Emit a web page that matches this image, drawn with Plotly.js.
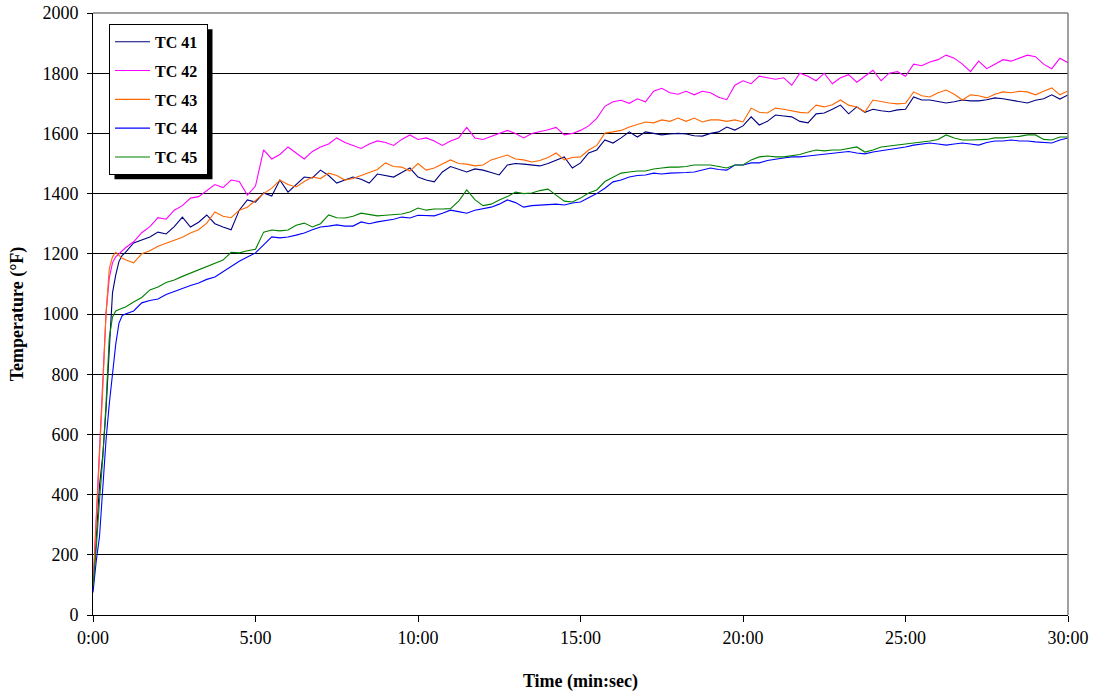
<!DOCTYPE html>
<html>
<head>
<meta charset="utf-8">
<script src="https://cdn.plot.ly/plotly-3.0.1.min.js"></script>
<style>
  html, body { margin: 0; padding: 0; background: #fff; }
  #chart { width: 1097px; height: 694px; }
</style>
</head>
<body>
<div id="chart"></div>
<script>
// Time in minutes
const timeMin = [
  0, 0.1, 0.2, 0.3, 0.4, 0.5, 0.6, 0.7, 0.8, 0.9, 1.0,
  1.25, 1.5, 1.75, 2.0, 2.25, 2.5, 2.75, 3.0, 3.25, 3.5, 3.75, 4.0,
  4.25, 4.5, 4.75, 5.0, 5.25, 5.5, 5.75, 6.0, 6.25, 6.5, 6.75, 7.0,
  7.25, 7.5, 7.75, 8.0, 8.25, 8.5, 8.75, 9.0, 9.25, 9.5, 9.75, 10.0,
  10.25, 10.5, 10.75, 11.0, 11.25, 11.5, 11.75, 12.0, 12.25, 12.5, 12.75, 13.0,
  13.25, 13.5, 13.75, 14.0, 14.25, 14.5, 14.75, 15.0, 15.25, 15.5, 15.75, 16.0,
  16.25, 16.5, 16.75, 17.0, 17.25, 17.5, 17.75, 18.0, 18.25, 18.5, 18.75, 19.0,
  19.25, 19.5, 19.75, 20.0, 20.25, 20.5, 20.75, 21.0, 21.25, 21.5, 21.75, 22.0,
  22.25, 22.5, 22.75, 23.0, 23.25, 23.5, 23.75, 24.0, 24.25, 24.5, 24.75, 25.0,
  25.25, 25.5, 25.75, 26.0, 26.25, 26.5, 26.75, 27.0, 27.25, 27.5, 27.75, 28.0,
  28.25, 28.5, 28.75, 29.0, 29.25, 29.5, 29.75, 30.0
];

const tc41 = [
  85, 270, 430, 530, 680, 880, 1070, 1130, 1175, 1195, 1205,
  1236, 1245, 1256, 1272,
  1266, 1290, 1322, 1289,
  1305, 1329, 1300, 1289,
  1280, 1345, 1379, 1372,
  1402, 1392, 1445, 1405,
  1430, 1455, 1452, 1478,
  1460, 1435, 1445, 1455,
  1448, 1435, 1465, 1460,
  1455, 1470, 1485, 1455,
  1445, 1439, 1472, 1490,
  1480, 1472, 1482, 1478,
  1470, 1462, 1495, 1500,
  1498, 1495, 1492, 1500,
  1512, 1522, 1485, 1502,
  1535, 1545, 1578, 1568,
  1585, 1605, 1588, 1605,
  1600, 1595, 1598, 1600,
  1598, 1592, 1591, 1600,
  1605, 1621, 1611, 1625,
  1655, 1628, 1640, 1661,
  1658, 1655, 1640, 1635,
  1665, 1668, 1680, 1694,
  1665, 1688, 1670, 1680,
  1675, 1672, 1678, 1680,
  1721, 1711, 1711, 1705,
  1701, 1705, 1711, 1708,
  1708, 1712, 1718, 1715,
  1711, 1705, 1701, 1710,
  1715, 1728, 1714, 1728
];

const tc42 = [
  100, 320, 580, 800, 1000, 1120, 1170, 1190, 1200, 1210, 1220,
  1240, 1270, 1290, 1320,
  1315, 1345, 1360, 1385,
  1390, 1410, 1430, 1420,
  1445, 1440, 1395, 1425,
  1545, 1515, 1530, 1555,
  1535, 1515, 1540, 1555,
  1565, 1585, 1570, 1560,
  1550, 1565, 1575, 1570,
  1560, 1580, 1595, 1580,
  1585, 1575, 1560, 1575,
  1585, 1620, 1585, 1580,
  1590, 1600, 1610, 1600,
  1585, 1600, 1605, 1612,
  1620, 1595, 1600, 1610,
  1625, 1650, 1690, 1705,
  1710, 1700, 1715, 1705,
  1740, 1750, 1735, 1730,
  1740, 1728, 1740, 1735,
  1720, 1712, 1760, 1775,
  1765, 1790, 1785, 1780,
  1785, 1760, 1800, 1790,
  1775, 1800, 1765, 1785,
  1795, 1770, 1790, 1810,
  1775, 1800, 1805, 1790,
  1830, 1825, 1837, 1845,
  1860, 1850, 1830, 1805,
  1840, 1815, 1830, 1845,
  1840, 1850, 1860, 1855,
  1830, 1815, 1850, 1835
];

const tc43 = [
  90, 300, 550, 750, 1000, 1150, 1190, 1205, 1195, 1185, 1180,
  1170, 1200, 1210, 1225,
  1236, 1245, 1255, 1269,
  1280, 1302, 1339, 1325,
  1320, 1345, 1355, 1379,
  1400, 1418, 1445, 1430,
  1422, 1440, 1455, 1450,
  1468, 1460, 1445, 1450,
  1460, 1472, 1480, 1502,
  1490, 1488, 1475, 1500,
  1478, 1485, 1498, 1512,
  1500, 1498, 1492, 1495,
  1512, 1520, 1528, 1515,
  1512, 1505, 1510, 1520,
  1535, 1512, 1520, 1522,
  1545, 1560, 1601, 1605,
  1610, 1621, 1630, 1638,
  1635, 1645, 1640, 1651,
  1640, 1651, 1638, 1645,
  1645, 1640, 1645, 1638,
  1684, 1670, 1668, 1684,
  1680, 1675, 1670, 1668,
  1694, 1688, 1695, 1711,
  1694, 1688, 1671, 1711,
  1705, 1701, 1698, 1700,
  1738, 1725, 1721, 1735,
  1744, 1730, 1711, 1728,
  1725, 1718, 1730, 1738,
  1735, 1740, 1738, 1728,
  1740, 1751, 1728, 1741
];

const tc44 = [
  75, 180, 260, 420, 580, 700, 800, 900, 970, 995, 1000,
  1010, 1037, 1045, 1050,
  1065, 1075, 1086, 1095,
  1103, 1115, 1123, 1140,
  1156, 1175, 1189, 1203,
  1230, 1256, 1253, 1256,
  1262, 1269, 1280, 1289,
  1292, 1296, 1292, 1292,
  1306, 1300, 1306, 1310,
  1315, 1322, 1319, 1328,
  1326, 1326, 1335, 1345,
  1340, 1335, 1345, 1350,
  1355, 1365, 1379, 1370,
  1355, 1360, 1362, 1365,
  1365, 1362, 1369, 1372,
  1385, 1400, 1418, 1439,
  1445, 1455, 1460, 1462,
  1468, 1465, 1468, 1468,
  1470, 1472, 1478, 1485,
  1480, 1478, 1495, 1495,
  1502, 1502, 1510, 1515,
  1518, 1522, 1522, 1525,
  1528, 1532, 1535, 1538,
  1540, 1535, 1532, 1538,
  1542, 1545, 1551, 1555,
  1561, 1565, 1568, 1565,
  1561, 1565, 1568, 1565,
  1561, 1570, 1575, 1575,
  1578, 1575, 1575, 1572,
  1570, 1568, 1578, 1585
];

const tc45 = [
  95, 220, 380, 520, 700, 920, 990, 1010, 1015, 1020, 1023,
  1040, 1055, 1080, 1090,
  1105, 1113, 1125, 1136,
  1145, 1156, 1168, 1179,
  1205, 1203, 1210, 1215,
  1272, 1279, 1276, 1279,
  1295, 1302, 1289, 1300,
  1329, 1320, 1319, 1325,
  1335, 1330, 1326, 1328,
  1329, 1332, 1339, 1352,
  1345, 1349, 1349, 1350,
  1375, 1412, 1380, 1360,
  1365, 1379, 1390, 1405,
  1400, 1402, 1410, 1415,
  1395, 1375, 1372, 1385,
  1402, 1412, 1440, 1455,
  1468, 1472, 1475, 1475,
  1482, 1485, 1488, 1488,
  1490, 1495, 1495, 1495,
  1490, 1485, 1495, 1495,
  1512, 1522, 1525, 1522,
  1522, 1525, 1530, 1538,
  1545, 1542, 1545, 1545,
  1551, 1555, 1538, 1545,
  1555, 1558, 1561, 1565,
  1568, 1570, 1575, 1580,
  1595, 1585, 1578, 1578,
  1578, 1580, 1585, 1585,
  1588, 1590, 1595, 1595,
  1580, 1578, 1588, 1588
];

const seriesNames = ['TC 41', 'TC 42', 'TC 43', 'TC 44', 'TC 45'];
const seriesColors = ['#000080', '#FF00FF', '#FF6600', '#0000FF', '#008000'];
const seriesData = [tc41, tc42, tc43, tc44, tc45];

const xTickVals = [0, 5, 10, 15, 20, 25, 30];
const xTickText = ['0:00', '5:00', '10:00', '15:00', '20:00', '25:00', '30:00'];
const yTickVals = [0, 200, 400, 600, 800, 1000, 1200, 1400, 1600, 1800, 2000];

const FONT = '"Liberation Serif", "Times New Roman", Times, serif';

const traces = seriesData.map((vals, i) => ({
  type: 'scatter',
  mode: 'lines',
  x: timeMin,
  y: vals,
  name: '<b>' + seriesNames[i] + '</b>&nbsp;',
  legendgroup: 'g' + i,
  line: { color: seriesColors[i], width: 1.1 },
  hoverinfo: 'skip'
}));

const layout = {
  width: 1097,
  height: 694,
  margin: { l: 93, r: 29, t: 13, b: 79 },
  paper_bgcolor: '#ffffff',
  plot_bgcolor: '#ffffff',
  font: { family: FONT, size: 18, color: '#000' },
  showlegend: true,
  xaxis: {
    range: [0, 30],
    tickvals: xTickVals,
    ticktext: xTickText,
    ticks: 'outside',
    ticklen: 6,
    tickwidth: 1,
    tickcolor: '#000',
    showline: true,
    linecolor: '#000',
    linewidth: 1,
    showgrid: false,
    zeroline: false,
    tickfont: { family: FONT, size: 18, color: '#000' },
    title: { text: '<b>Time (min:sec)</b>', font: { family: FONT, size: 18, color: '#000' }, standoff: 27 },
    automargin: false
  },
  yaxis: {
    range: [0, 2000],
    tickvals: yTickVals,
    ticks: 'outside',
    ticklen: 5,
    tickwidth: 1,
    tickcolor: '#000',
    ticklabelstandoff: 5,
    showline: true,
    linecolor: '#000',
    linewidth: 1,
    showgrid: true,
    gridcolor: '#000',
    gridwidth: 1,
    zeroline: false,
    tickfont: { family: FONT, size: 18, color: '#000' },
    title: { text: '<b>Temperature (°F)</b>', font: { family: FONT, size: 18, color: '#000' }, standoff: 14 },
    automargin: false
  },
  legend: {
    x: 0.0164,
    y: 0.982,
    xanchor: 'left',
    yanchor: 'top',
    bgcolor: '#ffffff',
    bordercolor: '#000',
    borderwidth: 1,
    font: { family: FONT, size: 16, color: '#000' },
    traceorder: 'grouped',
    tracegroupgap: 5,
    itemwidth: 35
  },
  shapes: [
    { type: 'line', xref: 'paper', yref: 'paper', x0: 0, x1: 1, y0: 1, y1: 1,
      line: { color: '#808080', width: 1.5 }, layer: 'above' },
    { type: 'line', xref: 'paper', yref: 'paper', x0: 1, x1: 1, y0: 0, y1: 1,
      line: { color: '#808080', width: 1.5 }, layer: 'above' }
  ]
};

Plotly.newPlot('chart', traces, layout, { staticPlot: true, displayModeBar: false }).then(gd => {
  // drop shadow behind the legend box, sized from the drawn legend
  const bg = gd.querySelector('.legend .bg');
  if (!bg) return;
  const svgBox = gd.querySelector('.main-svg').getBoundingClientRect();
  const r = bg.getBoundingClientRect();
  const fs = gd._fullLayout._size;
  const toPX = px => (px - fs.l) / fs.w;
  const toPY = py => 1 - (py - fs.t) / fs.h;
  const d = 5;
  const left = r.left - svgBox.left, top = r.top - svgBox.top;
  const shadow = { type: 'rect', xref: 'paper', yref: 'paper',
    x0: toPX(left + d), x1: toPX(left + r.width + d),
    y0: toPY(top + r.height + d), y1: toPY(top + d),
    fillcolor: '#000', line: { width: 0 }, layer: 'above' };
  Plotly.relayout(gd, { shapes: [shadow].concat(layout.shapes) });
});
</script>
</body>
</html>
